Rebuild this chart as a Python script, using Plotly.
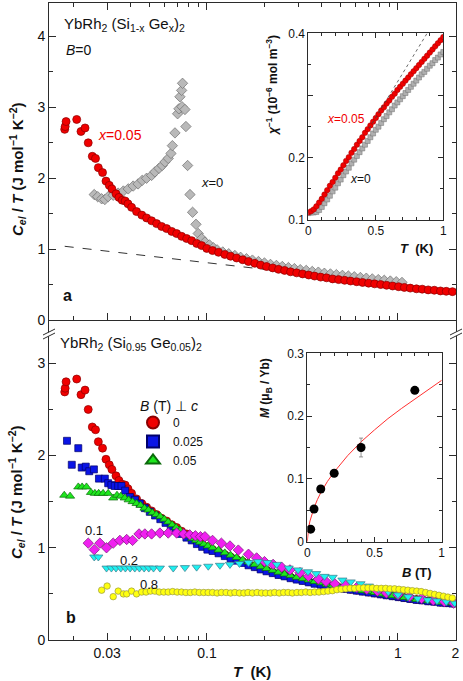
import plotly.graph_objects as go

W, H = 463, 681
FONT = "Liberation Sans, Arial, Helvetica, sans-serif"
AX = "#2b2b2b"

# ---- panel a + panel b (B = 0): YbRh2(Si0.95Ge0.05)2, C_el/T vs T ----
RED_T = [0.0180, 0.0181, 0.0183, 0.0208, 0.0219, 0.0230, 0.0239, 0.0251, 0.0261, 0.0270,
         0.0284, 0.0296, 0.0308, 0.0318, 0.0334, 0.0346, 0.0360, 0.0373, 0.0386, 0.0403,
         0.0428, 0.0456, 0.0483, 0.0513, 0.0545, 0.0579, 0.0615, 0.0654, 0.0694, 0.0737,
         0.0783, 0.0832, 0.0884, 0.0938, 0.0998,
         0.107, 0.115, 0.124, 0.133, 0.143, 0.154, 0.165, 0.178, 0.191, 0.205,
         0.221, 0.237, 0.255, 0.274, 0.295, 0.317, 0.341, 0.366, 0.394, 0.423,
         0.455, 0.489, 0.526, 0.565, 0.608, 0.653, 0.702, 0.755, 0.812, 0.872,
         0.938, 1.008, 1.08, 1.16, 1.25, 1.34, 1.44, 1.55, 1.67, 1.79, 1.93]
RED_C = [2.69, 2.73, 2.80, 2.83, 2.66, 2.71, 2.50, 2.31, 2.28, 2.15,
         2.08, 1.96, 1.90, 1.85, 1.78, 1.73, 1.69, 1.68, 1.64, 1.59,
         1.53, 1.48, 1.44, 1.40, 1.36, 1.32, 1.29, 1.25, 1.22, 1.18,
         1.15, 1.12, 1.08, 1.05, 1.01,
         0.98, 0.955, 0.925, 0.90, 0.875, 0.85, 0.825, 0.80, 0.775, 0.755,
         0.735, 0.715, 0.70, 0.68, 0.665, 0.65, 0.635, 0.62, 0.605, 0.595,
         0.58, 0.57, 0.56, 0.55, 0.54, 0.53, 0.52, 0.51, 0.50, 0.49,
         0.48, 0.47, 0.46, 0.45, 0.44, 0.435, 0.425, 0.42, 0.41, 0.405, 0.40]

# ---- panel a: x = 0 ----
GRAY_T = [0.0257, 0.0268, 0.0281, 0.0292, 0.0304, 0.0323, 0.0343, 0.0365, 0.0387, 0.0411,
          0.0436, 0.0458, 0.0483, 0.0513, 0.0534, 0.0561, 0.0583, 0.0603, 0.0627, 0.0648,
          0.0659, 0.0680, 0.0702, 0.0713, 0.0722, 0.0737, 0.0745, 0.0740, 0.0767, 0.0776,
          0.0792, 0.0815, 0.0841, 0.0876, 0.0900, 0.0938, 0.0976, 0.103, 0.108,
          0.113, 0.121, 0.130, 0.140, 0.150, 0.161, 0.173, 0.186, 0.200, 0.215,
          0.231, 0.248, 0.267, 0.287, 0.308, 0.331, 0.356, 0.383, 0.412, 0.443,
          0.476, 0.512, 0.550, 0.591, 0.636, 0.683, 0.734, 0.789, 0.848, 0.912, 0.980, 1.05]
GRAY_C = [1.77, 1.74, 1.71, 1.70, 1.74, 1.76, 1.79, 1.82, 1.85, 1.89,
          1.92, 1.97, 2.00, 2.04, 2.09, 2.14, 2.18, 2.23, 2.28, 2.35,
          2.46, 2.64, 2.91, 2.98, 3.15, 3.24, 3.34, 3.01, 2.97, 2.73,
          2.18, 1.77, 1.52, 1.35, 1.22, 1.15, 1.10, 1.06, 1.02,
          0.99, 0.96, 0.935, 0.91, 0.885, 0.865, 0.845, 0.825, 0.805, 0.785,
          0.77, 0.755, 0.74, 0.725, 0.71, 0.70, 0.685, 0.675, 0.66, 0.65,
          0.64, 0.63, 0.62, 0.61, 0.60, 0.59, 0.58, 0.57, 0.56, 0.55, 0.54, 0.53]

# dashed reference line in panel a
DASH_A_T = [0.018, 0.30]
DASH_A_C = [1.04, 0.66]

# ---- panel b: other fields ----
HI_T = [0.107, 0.115, 0.124, 0.133, 0.143, 0.154, 0.165, 0.178, 0.191, 0.205,
        0.221, 0.237, 0.255, 0.274, 0.295, 0.317, 0.341, 0.366, 0.394, 0.423,
        0.455, 0.489, 0.526, 0.565, 0.608, 0.653, 0.702, 0.755, 0.812, 0.872,
        0.938, 1.008, 1.08, 1.16, 1.25, 1.34, 1.44, 1.55, 1.67, 1.79, 1.93]

B025_T = [0.0185, 0.0196, 0.0212, 0.0221, 0.0232, 0.0242, 0.0256, 0.0272, 0.0292, 0.0304,
          0.0316, 0.0329, 0.0343, 0.0357, 0.0373, 0.0395, 0.0420, 0.0445, 0.0473, 0.0502,
          0.0535, 0.0570, 0.0607, 0.0646, 0.0688, 0.0733, 0.0781, 0.0832, 0.0886, 0.0944,
          0.1005] + HI_T
B025_C = [2.16, 1.90, 2.08, 1.87, 1.88, 1.83, 1.85, 1.75, 1.75, 1.70,
          1.68, 1.67, 1.67, 1.67, 1.62, 1.55, 1.52, 1.48, 1.43, 1.39,
          1.35, 1.31, 1.27, 1.23, 1.19, 1.15, 1.11, 1.08, 1.04, 1.01,
          0.98,
          0.965, 0.94, 0.91, 0.885, 0.86, 0.835, 0.81, 0.79, 0.765, 0.745,
          0.725, 0.705, 0.69, 0.67, 0.655, 0.64, 0.625, 0.61, 0.60, 0.585,
          0.575, 0.565, 0.555, 0.545, 0.535, 0.525, 0.515, 0.505, 0.495, 0.485,
          0.475, 0.465, 0.455, 0.445, 0.435, 0.43, 0.42, 0.415, 0.405, 0.40, 0.395]

B05_T = [0.0179, 0.0192, 0.0212, 0.0222, 0.0234, 0.0247, 0.0259, 0.0271, 0.0286, 0.0304,
         0.0323, 0.0338, 0.0354, 0.0371, 0.0389, 0.0408, 0.0428, 0.0449, 0.0471, 0.0494,
         0.0518, 0.0543, 0.0570, 0.0598, 0.0627, 0.0658, 0.0690, 0.0724, 0.0760, 0.0797,
         0.0836, 0.0877, 0.0920, 0.0965, 0.1012] + HI_T
B05_C = [1.57, 1.56, 1.66, 1.66, 1.66, 1.60, 1.59, 1.59, 1.59, 1.59,
         1.54, 1.57, 1.56, 1.54, 1.52, 1.50, 1.48, 1.46, 1.43, 1.41,
         1.38, 1.36, 1.34, 1.31, 1.28, 1.25, 1.22, 1.19, 1.16, 1.13,
         1.10, 1.08, 1.06, 1.04, 1.02,
         1.00, 0.975, 0.945, 0.92, 0.895, 0.87, 0.845, 0.82, 0.795, 0.775,
         0.755, 0.735, 0.715, 0.70, 0.68, 0.665, 0.65, 0.635, 0.62, 0.605,
         0.59, 0.58, 0.565, 0.555, 0.545, 0.535, 0.525, 0.515, 0.50, 0.49,
         0.48, 0.47, 0.46, 0.45, 0.44, 0.435, 0.425, 0.42, 0.41, 0.405, 0.40]

B1_T = [0.0239, 0.0257, 0.0275, 0.0298, 0.0323, 0.0350, 0.0380, 0.0408, 0.0441, 0.0473,
        0.0513, 0.0567, 0.0627, 0.0694, 0.0755, 0.0812, 0.0870, 0.0925, 0.0976, 0.107,
        0.119, 0.132, 0.146, 0.165, 0.182, 0.200, 0.222, 0.246, 0.272, 0.307,
        0.340, 0.383, 0.420, 0.467, 0.530, 0.609, 0.687, 0.780, 0.870, 1.000,
        1.150, 1.330, 1.530, 1.750, 1.960]
B1_C = [1.05, 0.98, 1.05, 1.00, 1.05, 1.08, 1.09, 1.08, 1.15, 1.15,
        1.15, 1.16, 1.16, 1.16, 1.15, 1.14, 1.13, 1.12, 1.12, 1.08,
        1.05, 1.02, 0.975, 0.93, 0.89, 0.85, 0.82, 0.79, 0.76, 0.73,
        0.69, 0.66, 0.635, 0.61, 0.59, 0.57, 0.55, 0.53, 0.51, 0.49,
        0.47, 0.45, 0.43, 0.415, 0.40]

B2_T = [0.0257, 0.0270, 0.0298, 0.0316, 0.0334, 0.0354, 0.0374, 0.0396, 0.0419, 0.0443,
        0.0469, 0.0496, 0.0525, 0.0567, 0.0666, 0.0767, 0.0883, 0.1016, 0.117, 0.132,
        0.148, 0.165, 0.185, 0.207, 0.232, 0.268, 0.300, 0.338, 0.373, 0.413,
        0.455, 0.512, 0.566, 0.637, 0.705, 0.790, 0.890, 1.000, 1.130, 1.270,
        1.430, 1.600, 1.790, 1.980]
B2_C = [0.90, 0.90, 0.78, 0.78, 0.78, 0.78, 0.78, 0.78, 0.78, 0.78,
        0.78, 0.78, 0.78, 0.78, 0.78, 0.785, 0.79, 0.80, 0.81, 0.82,
        0.83, 0.84, 0.85, 0.84, 0.82, 0.78, 0.76, 0.74, 0.72, 0.69,
        0.68, 0.65, 0.63, 0.61, 0.585, 0.55, 0.52, 0.49, 0.47, 0.45,
        0.435, 0.425, 0.415, 0.40]

B8_T = [0.0281, 0.0300, 0.0323, 0.0343, 0.0365, 0.0380, 0.0403, 0.0428, 0.0455,
        0.0480, 0.0506, 0.0534, 0.0563, 0.0594, 0.0627, 0.0661, 0.0698, 0.0736, 0.0776,
        0.0819, 0.0864, 0.0912, 0.0962, 0.1015, 0.107, 0.113, 0.119, 0.126, 0.133,
        0.140, 0.148, 0.156, 0.164, 0.173, 0.183, 0.193, 0.203, 0.215, 0.226,
        0.239, 0.252, 0.266, 0.280, 0.296, 0.312, 0.329, 0.347, 0.366, 0.386,
        0.408, 0.430, 0.454, 0.479, 0.505, 0.533, 0.562, 0.593, 0.626, 0.660,
        0.697, 0.735, 0.775, 0.818, 0.863, 0.910, 0.960, 1.013, 1.069, 1.128,
        1.190, 1.255, 1.324, 1.397, 1.474, 1.555, 1.640, 1.731, 1.826, 1.926]
B8_C = [0.54, 0.585, 0.47, 0.53, 0.50, 0.50, 0.53, 0.50, 0.52,
        0.52, 0.53, 0.53, 0.52, 0.52, 0.52, 0.525, 0.52, 0.52, 0.515,
        0.515, 0.52, 0.515, 0.515, 0.515, 0.515, 0.51, 0.515, 0.515, 0.51,
        0.515, 0.51, 0.51, 0.515, 0.51, 0.515, 0.51, 0.51, 0.51, 0.515,
        0.51, 0.515, 0.515, 0.51, 0.515, 0.515, 0.52, 0.515, 0.52, 0.52,
        0.525, 0.53, 0.535, 0.545, 0.55, 0.555, 0.56, 0.56, 0.565, 0.565,
        0.565, 0.565, 0.56, 0.56, 0.56, 0.555, 0.555, 0.55, 0.545, 0.54,
        0.535, 0.53, 0.525, 0.515, 0.505, 0.495, 0.485, 0.475, 0.465, 0.455]

# ---- inset (a): inverse susceptibility ----
CHI_T = [0.00, 0.02, 0.04, 0.06, 0.08, 0.10, 0.12, 0.14, 0.16, 0.18,
         0.20, 0.22, 0.24, 0.26, 0.28, 0.30, 0.32, 0.34, 0.36, 0.38,
         0.40, 0.42, 0.44, 0.46, 0.48, 0.50, 0.52, 0.54, 0.56, 0.58,
         0.60, 0.62, 0.64, 0.66, 0.68, 0.70, 0.72, 0.74, 0.76, 0.78,
         0.80, 0.82, 0.84, 0.86, 0.88, 0.90, 0.92, 0.94, 0.96, 0.98, 1.00]
CHI_X05 = [0.112, 0.114, 0.117, 0.122, 0.128, 0.134, 0.141, 0.148, 0.155, 0.161,
           0.168, 0.175, 0.181, 0.188, 0.195, 0.201, 0.208, 0.214, 0.221, 0.227,
           0.233, 0.240, 0.246, 0.252, 0.258, 0.264, 0.270, 0.276, 0.281, 0.287,
           0.292, 0.298, 0.303, 0.309, 0.314, 0.319, 0.324, 0.329, 0.334, 0.339,
           0.344, 0.349, 0.354, 0.359, 0.364, 0.369, 0.374, 0.379, 0.384, 0.389, 0.394]
CHI_X0 = [0.111, 0.112, 0.112, 0.113, 0.116, 0.121, 0.127, 0.133, 0.139, 0.146,
          0.152, 0.159, 0.165, 0.172, 0.178, 0.184, 0.191, 0.197, 0.203, 0.209,
          0.215, 0.221, 0.227, 0.233, 0.239, 0.245, 0.250, 0.256, 0.262, 0.267,
          0.273, 0.278, 0.284, 0.289, 0.294, 0.299, 0.304, 0.309, 0.314, 0.319,
          0.324, 0.329, 0.334, 0.338, 0.343, 0.348, 0.352, 0.357, 0.361, 0.366, 0.370]
DASH_CHI_T = [0.45, 0.88]
DASH_CHI = [0.247, 0.400]

# ---- inset (b): magnetization ----
M_B = [0.025, 0.05, 0.1, 0.2, 0.4, 0.8]
M_VAL = [0.020, 0.052, 0.084, 0.109, 0.150, 0.241]
M_ERR = [0, 0, 0, 0, 0.015, 0]
FIT_B = [0, 0.005, 0.01, 0.02, 0.03, 0.05, 0.075, 0.1, 0.15, 0.2, 0.3, 0.4, 0.5,
         0.6, 0.7, 0.8, 0.9, 1.0]
FIT_M = [0, 0.016, 0.023, 0.033, 0.041, 0.054, 0.067, 0.078, 0.096, 0.111, 0.137,
         0.159, 0.178, 0.196, 0.212, 0.227, 0.242, 0.257]

for a, b in [(RED_T, RED_C), (GRAY_T, GRAY_C), (B025_T, B025_C), (B05_T, B05_C),
             (B1_T, B1_C), (B2_T, B2_C), (B8_T, B8_C), (CHI_T, CHI_X05), (CHI_T, CHI_X0),
             (FIT_B, FIT_M)]:
    assert len(a) == len(b), (len(a), len(b))

LOG_MAJOR = [0.03, 0.1, 1, 2]
LOG_MINOR = [0.02, 0.04, 0.05, 0.06, 0.07, 0.08, 0.09,
             0.2, 0.3, 0.4, 0.5, 0.6, 0.7, 0.8, 0.9]


def px(x):
    return x / W


def py(y):
    return 1 - y / H


def mk(symbol, size, fill, edge, width=0.7):
    return dict(symbol=symbol, size=size, color=fill, line=dict(color=edge, width=width))


fig = go.Figure()

# panel a
fig.add_trace(go.Scatter(x=DASH_A_T, y=DASH_A_C, mode="lines", xaxis="x2", yaxis="y2",
                         line=dict(color="#333", width=1, dash="dash"), showlegend=False))
fig.add_trace(go.Scatter(x=GRAY_T, y=GRAY_C, mode="markers", xaxis="x2", yaxis="y2",
                         marker=mk("diamond", 8, "#b9b9b9", "#6e6e6e"), showlegend=False))
fig.add_trace(go.Scatter(x=RED_T, y=RED_C, mode="markers", xaxis="x2", yaxis="y2",
                         marker=mk("circle", 8, "#f00000", "#8a0000"), showlegend=False))

# panel b
fig.add_trace(go.Scatter(x=RED_T, y=RED_C, mode="markers", name="0",
                         marker=mk("circle", 8, "#f00000", "#8a0000")))
fig.add_trace(go.Scatter(x=B025_T, y=B025_C, mode="markers", name="0.025",
                         marker=mk("square", 7, "#0a14e6", "#00006a")))
fig.add_trace(go.Scatter(x=B05_T, y=B05_C, mode="markers", name="0.05",
                         marker=mk("triangle-up", 8, "#1ee61e", "#0a6a0a")))
fig.add_trace(go.Scatter(x=B1_T, y=B1_C, mode="markers", showlegend=False,
                         marker=mk("diamond", 8, "#f020f0", "#7a107a")))
fig.add_trace(go.Scatter(x=B2_T, y=B2_C, mode="markers", showlegend=False,
                         marker=mk("triangle-down", 8, "#1ef0f0", "#3a7a8a")))
fig.add_trace(go.Scatter(x=B8_T, y=B8_C, mode="markers", showlegend=False,
                         marker=mk("circle", 6.5, "#ffff10", "#9a9a40")))

# inset a
fig.add_trace(go.Scatter(x=CHI_T, y=CHI_X0, mode="markers", xaxis="x3", yaxis="y3",
                         marker=mk("square", 5, "#b0b0b0", "#707070", 0.5), showlegend=False))
fig.add_trace(go.Scatter(x=CHI_T, y=CHI_X05, mode="markers", xaxis="x3", yaxis="y3",
                         marker=mk("circle", 5.5, "#f00000", "#a00000", 0.5), showlegend=False))
fig.add_trace(go.Scatter(x=DASH_CHI_T, y=DASH_CHI, mode="lines", xaxis="x3", yaxis="y3",
                         line=dict(color="#444", width=0.8, dash="dot"), showlegend=False))

# inset b
fig.add_trace(go.Scatter(x=FIT_B, y=FIT_M, mode="lines", xaxis="x4", yaxis="y4",
                         line=dict(color="#ff3030", width=1), showlegend=False))
fig.add_trace(go.Scatter(x=M_B, y=M_VAL, mode="markers", xaxis="x4", yaxis="y4",
                         marker=dict(color="black", size=9),
                         error_y=dict(type="data", array=M_ERR, color="#777", thickness=0.8, width=2),
                         showlegend=False))

common = dict(showgrid=False, zeroline=False, showline=True, linecolor=AX, linewidth=1,
              ticks="inside", tickcolor=AX, tickwidth=1, automargin=False)
main_font = dict(family=FONT, size=14, color="#111")
small_font = dict(family=FONT, size=12, color="#111")

fig.update_layout(
    width=W, height=H,
    margin=dict(l=0, r=0, t=0, b=0, autoexpand=False),
    paper_bgcolor="white", plot_bgcolor="white",
    font=dict(family=FONT, color="#111"),
    xaxis=dict(common, type="log", domain=[px(49), px(456)], range=[-1.827, 0.304], anchor="y",
               tickvals=LOG_MAJOR, ticktext=["0.03", "0.1", "1", "2"], ticklen=7,
               minor=dict(tickvals=LOG_MINOR, ticks="inside", ticklen=4, tickcolor=AX),
               tickfont=main_font),
    yaxis=dict(common, domain=[py(640), py(320)], range=[0, 3.47], anchor="x", mirror="ticks",
               tickvals=[0, 1, 2, 3], ticklen=7,
               minor=dict(dtick=0.5, ticks="inside", ticklen=4, tickcolor=AX),
               tickfont=main_font),
    xaxis2=dict(common, type="log", domain=[px(49), px(456)], range=[-1.827, 0.304], anchor="y2",
                mirror="ticks", tickvals=LOG_MAJOR, ticklen=7, showticklabels=False,
                minor=dict(tickvals=LOG_MINOR, ticks="inside", ticklen=4, tickcolor=AX)),
    yaxis2=dict(common, domain=[py(320), py(2.5)], range=[0, 4.48], anchor="x2", mirror="ticks",
                tickvals=[0, 1, 2, 3, 4], ticklen=7,
                minor=dict(dtick=0.5, ticks="inside", ticklen=4, tickcolor=AX),
                tickfont=main_font),
    xaxis3=dict(common, domain=[px(308.3), px(443.3)], range=[0, 1], anchor="y3", mirror="ticks",
                tickvals=[0, 0.5, 1], ticktext=["0", "0.5", "1"], ticklen=5,
                minor=dict(dtick=0.1, ticks="inside", ticklen=3, tickcolor=AX),
                tickfont=small_font),
    yaxis3=dict(common, domain=[py(220), py(33.3)], range=[0.1, 0.4], anchor="x3", mirror="ticks",
                tickvals=[0.1, 0.2, 0.3, 0.4], ticktext=["0.1", "0.2", "", "0.4"], ticklen=5,
                minor=dict(tick0=0.1, dtick=0.05, ticks="inside", ticklen=3, tickcolor=AX),
                tickfont=small_font),
    xaxis4=dict(common, domain=[px(307.3), px(441.7)], range=[0, 1], anchor="y4", mirror="ticks",
                tickvals=[0, 0.5, 1], ticktext=["0", "0.5", "1"], ticklen=5,
                minor=dict(dtick=0.1, ticks="inside", ticklen=3, tickcolor=AX),
                tickfont=small_font),
    yaxis4=dict(common, domain=[py(541.7), py(353.3)], range=[0, 0.3], anchor="x4", mirror="ticks",
                tickvals=[0, 0.1, 0.2, 0.3], ticktext=["0", "0.1", "0.2", "0.3"], ticklen=5,
                minor=dict(dtick=0.05, ticks="inside", ticklen=3, tickcolor=AX),
                tickfont=small_font),
    legend=dict(x=px(133), y=py(408), xanchor="left", yanchor="top",
                bgcolor="rgba(0,0,0,0)", itemsizing="constant", itemwidth=30,
                font=dict(family=FONT, size=12, color="#111")),
)

YTITLE = "<b><i>C</i><sub><i>el</i></sub> / <i>T</i> (J mol<sup>−1</sup> K<sup>−2</sup>)</b>"


def note(text, x, y, size=14, color="#111", angle=0, xanchor="center"):
    fig.add_annotation(text=text, x=px(x), y=py(y), xref="paper", yref="paper",
                       showarrow=False, textangle=angle, xanchor=xanchor, yanchor="middle",
                       font=dict(family=FONT, size=size, color=color))


note(YTITLE, 17, 169, size=15, angle=-90)
note(YTITLE, 17, 492, size=15, angle=-90)
note("<b><i>T</i>  (K)</b>", 252, 671, size=15)
note("YbRh<sub>2</sub> (Si<sub>1-x</sub> Ge<sub>x</sub>)<sub>2</sub>", 62, 24, size=15, xanchor="left")
note("<i>B</i>=0", 64, 50, size=14, xanchor="left")
note("<i>x</i>=0.05", 96, 135, size=14, color="#f00000", xanchor="left")
note("<i>x</i>=0", 199, 183, size=13, xanchor="left")
note("<b>a</b>", 61, 295, size=16, xanchor="left")
note("YbRh<sub>2</sub> (Si<sub>0.95</sub> Ge<sub>0.05</sub>)<sub>2</sub>", 58, 343, size=15, xanchor="left")
note("<i>B</i> (T) ⊥ <i>c</i>", 138, 406, size=14, xanchor="left")
note("0.1", 94, 530, size=13)
note("0.2", 129, 560, size=13)
note("0.8", 149, 584, size=13)
note("<b>b</b>", 64, 617, size=16, xanchor="left")
# inset a texts
note("<b><i>χ</i><sup>−1</sup> (10<sup>−6</sup> mol m<sup>−3</sup>)</b>", 272, 86, size=12, angle=-90)
note("<b><i>T</i>  (K)</b>", 416, 249, size=13)
note("<i>x</i>=0.05", 346, 119, size=12, color="#f00000")
note("<i>x</i>=0", 360, 179, size=12)
# inset b texts
note("<b><i>M</i> (μ<sub>B</sub> / Yb)</b>", 266, 388, size=12, angle=-90)
note("<b><i>B</i> (T)</b>", 417, 572, size=13)

# axis-break marks on both sides between the panels
for xc in (49, 456):
    fig.add_shape(type="path", xref="paper", yref="paper",
                  path=f"M {px(xc-6)} {py(335)} L {px(xc+6)} {py(329)} L {px(xc+6)} {py(333)} "
                       f"L {px(xc-6)} {py(339)} Z",
                  fillcolor="white", line=dict(width=0))
    for dy in (0, 4):
        fig.add_shape(type="line", xref="paper", yref="paper",
                      x0=px(xc - 6), y0=py(335 + dy), x1=px(xc + 6), y1=py(329 + dy),
                      line=dict(color=AX, width=1))

# the page body has a default 8px margin; drop it so the figure sits at the window's corner
fig.write_html("out.html", config={"displayModeBar": False},
               post_script="document.body.style.margin='0';")
